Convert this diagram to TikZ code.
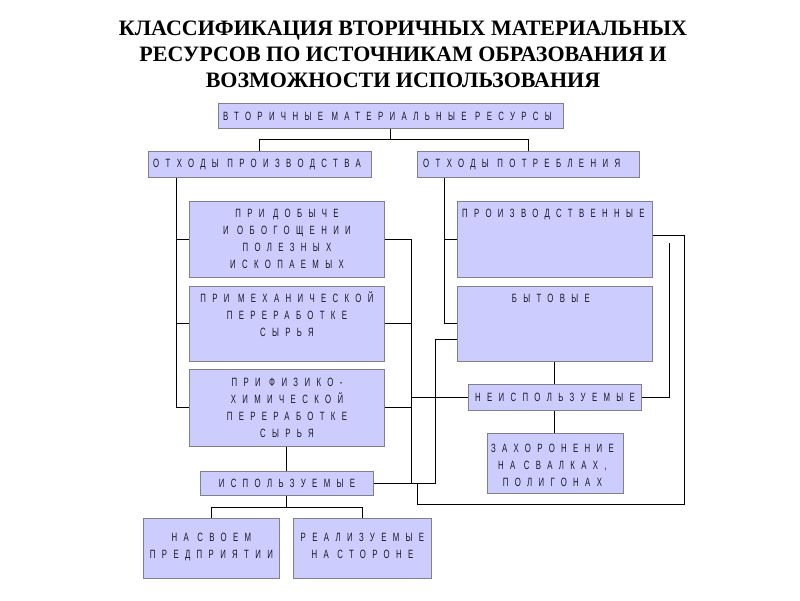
\documentclass[tikz,border=0pt]{standalone}
\usepackage{fontspec}
\setmainfont{Liberation Sans}
\newfontfamily\boxfont[FakeStretch=0.65,LetterSpace=53]{Liberation Sans}
\newfontfamily\titlefont{Liberation Serif}
\definecolor{boxfill}{RGB}{204,204,255}
\definecolor{boxborder}{RGB}{128,128,140}
\definecolor{textcol}{RGB}{25,25,35}
\begin{document}
\begin{tikzpicture}[x=1pt,y=-1pt,
  box/.style={draw=boxborder, fill=boxfill, line width=0.9pt, inner sep=0pt, anchor=north west},
  txt/.style={font=\boxfont\fontsize{12}{17}\selectfont, text=textcol, inner sep=0pt, align=center},
  conn/.style={draw=black, line width=1pt},
  ttl/.style={font=\titlefont\bfseries\fontsize{22}{26}\selectfont, align=center, text=black, inner sep=0pt}]
\useasboundingbox[fill=white] (0,0) rectangle (800,600);

% title
\node[ttl] (title) at (403,54) {КЛАССИФИКАЦИЯ ВТОРИЧНЫХ МАТЕРИАЛЬНЫХ\\РЕСУРСОВ ПО ИСТОЧНИКАМ ОБРАЗОВАНИЯ И\\ВОЗМОЖНОСТИ ИСПОЛЬЗОВАНИЯ};

% boxes
\node[box, minimum width=345pt, minimum height=25pt] (top) at (218,103) {};
\node[box, minimum width=223pt, minimum height=26pt] (prod) at (148,151) {};
\node[box, minimum width=222pt, minimum height=26pt] (cons) at (417,151) {};
\node[box, minimum width=195pt, minimum height=76pt] (b1) at (189,201) {};
\node[box, minimum width=195pt, minimum height=75pt] (b2) at (189,286) {};
\node[box, minimum width=195pt, minimum height=77pt] (b3) at (189,369) {};
\node[box, minimum width=173pt, minimum height=24pt] (isp) at (200,471) {};
\node[box, minimum width=136pt, minimum height=60pt] (own) at (143,518) {};
\node[box, minimum width=138pt, minimum height=60pt] (side) at (293,518) {};
\node[box, minimum width=195pt, minimum height=76pt] (pr) at (457,201) {};
\node[box, minimum width=195pt, minimum height=75pt] (byt) at (457,286) {};
\node[box, minimum width=173pt, minimum height=26pt] (neisp) at (468,384) {};
\node[box, minimum width=136pt, minimum height=60pt] (zah) at (487,433) {};

% texts
\node[txt, anchor=west] (ttop) at ([xshift=5pt]top.west) {ВТОРИЧНЫЕ МАТЕРИАЛЬНЫЕ РЕСУРСЫ};
\node[txt, anchor=west] (tprod) at ([xshift=5pt]prod.west) {ОТХОДЫ ПРОИЗВОДСТВА};
\node[txt, anchor=west] (tcons) at ([xshift=6pt]cons.west) {ОТХОДЫ ПОТРЕБЛЕНИЯ};
\node[txt, anchor=north] (tb1) at ([yshift=-8pt]b1.north) {ПРИ ДОБЫЧЕ\\И ОБОГОЩЕНИИ\\ПОЛЕЗНЫХ\\ИСКОПАЕМЫХ};
\node[txt, anchor=north] (tb2) at ([yshift=-5pt]b2.north) {ПРИ МЕХАНИЧЕСКОЙ\\ПЕРЕРАБОТКЕ\\СЫРЬЯ};
\node[txt, anchor=north] (tb3) at ([yshift=-9pt]b3.north) {ПРИ ФИЗИКО-\\ХИМИЧЕСКОЙ\\ПЕРЕРАБОТКЕ\\СЫРЬЯ};
\node[txt] (tisp) at (isp.center) {ИСПОЛЬЗУЕМЫЕ};
\node[txt, anchor=north] (town) at ([yshift=-15pt]own.north) {НА СВОЕМ\\ПРЕДПРИЯТИИ};
\node[txt, anchor=north] (tside) at ([yshift=-15pt]side.north) {РЕАЛИЗУЕМЫЕ\\НА СТОРОНЕ};
\node[txt, anchor=north west] (tpr) at ([xshift=5pt,yshift=-8pt]pr.north west) {ПРОИЗВОДСТВЕННЫЕ};
\node[txt, anchor=north] (tbyt) at ([xshift=-4pt,yshift=-8pt]byt.north) {БЫТОВЫЕ};
\node[txt] (tneisp) at (neisp.center) {НЕИСПОЛЬЗУЕМЫЕ};
\node[txt, anchor=north] (tzah) at ([xshift=-3pt,yshift=-11pt]zah.north) {ЗАХОРОНЕНИЕ\\НА СВАЛКАХ,\\ПОЛИГОНАХ};

% helper coordinates
\coordinate (lx) at (176,0);
\coordinate (rx) at (444,0);
\coordinate (mx) at (411,0);
\coordinate (bx) at (435,0);
\coordinate (jx) at (417,0);
\coordinate (ox) at (684,0);
\coordinate (ix) at (669,0);
\coordinate (loopy) at (0,504);
\coordinate (uy) at (0,339);

% top tree
\draw[conn] (top.south) -- ++(0,11) -| (prod.north);
\draw[conn] (top.south) ++(0,11) -| (cons.north);

% production waste
\draw[conn] (prod.south -| lx) |- (b3.west);
\draw[conn] (lx |- b1.west) -- (b1.west);
\draw[conn] (lx |- b2.west) -- (b2.west);

% consumption waste
\draw[conn] (cons.south -| rx) |- (byt.west);
\draw[conn] (rx |- pr.west) -- (pr.west);

% to unused / used
\draw[conn] (b1.east) -| (mx |- isp.east);
\draw[conn] (b2.east) -- (mx |- b2.east);
\draw[conn] (b3.east) -- (mx |- b3.east);
\draw[conn] (mx |- neisp.west) -- (neisp.west);
\draw[conn] (b3.south) -- (isp.north);
\draw[conn] (isp.east) -| (bx |- uy) -- (byt.west |- uy);
\draw[conn] (jx |- isp.east) |- (ox |- loopy) |- ([yshift=4pt]pr.east);
\draw[conn] (ix |- pr.east) ++(0,4) |- (neisp.east);
\draw[conn] (byt.south -| neisp.north) -- (neisp.north);
\draw[conn] (neisp.south) -- (neisp.south |- zah.north);

% used subtree
\draw[conn] (isp.south) -- ++(0,12) -| (own.north);
\draw[conn] (isp.south) ++(0,12) -| (side.north);
\end{tikzpicture}
\end{document}
